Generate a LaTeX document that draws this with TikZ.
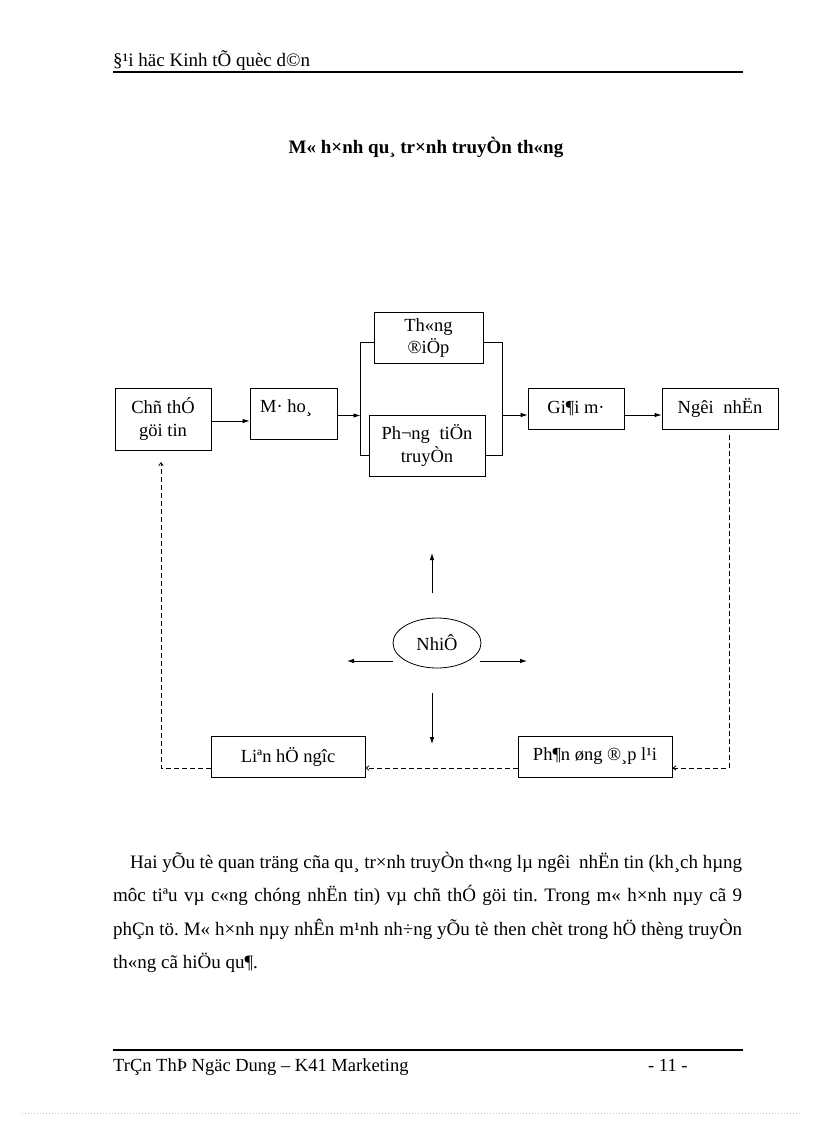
\documentclass[tikz,border=0pt]{standalone}
\usepackage{fontspec}
\setmainfont{Liberation Serif}
\usetikzlibrary{shapes.geometric,arrows.meta}
\newcommand\bxfont{\fontsize{18.5}{22.5}\selectfont}
\newcommand\bdfont{\fontsize{19}{23}\selectfont}
\newcommand\ftfont{\fontsize{18.5}{23}\selectfont}
\frenchspacing
\begin{document}
\begin{tikzpicture}[x=1pt,y=-1pt,
  box/.style={draw, line width=0.8pt, inner sep=0pt, align=center, font=\bxfont},
  lbl/.style={inner sep=0pt, font=\bxfont},
  arr/.style={line width=0.8pt, -{Latex[length=7pt,width=4.5pt]}},
  darr/.style={line width=0.8pt, dash pattern=on 5pt off 3pt, -{Straight Barb[length=3pt,width=4.5pt]}},
  txt/.style={inner sep=0pt, anchor=base west, font=\bdfont},
  rule/.style={line width=1.4pt}]
\useasboundingbox (0,0) rectangle (816,1123);

% header
\node[txt] (hdr) at (113,67) {§¹i häc Kinh tÕ quèc d©n};
\draw[rule] (113,72) -- (743,72);

% title
\node[inner sep=0pt, anchor=base, font=\bdfont\bfseries] (title) at (426,154) {M« h×nh qu¸ tr×nh truyÒn th«ng};

% boxes
\node[box, minimum width=96pt, minimum height=62pt] (chu) at (163,419) {Chñ thÓ\\göi tin};
\node[box, minimum width=87pt, minimum height=51pt] (mahoa) at (293.5,413.5) {};
\node[lbl] (mahoatxt) at (286,408) {M· ho¸};
\node[box, minimum width=109pt, minimum height=51pt] (thong) at (428.5,338) {Th«ng\\®iÖp};
\node[box, minimum width=116pt, minimum height=61pt] (phuong) at (427,445.5) {Ph¬ng\hspace{5pt} tiÖn\\truyÒn};
\node[box, minimum width=96pt, minimum height=41pt] (giai) at (576,408.5) {Gi¶i m·};
\node[box, minimum width=116pt, minimum height=41pt] (nguoi) at (720,408.5) {Ngêi\hspace{5pt} nhËn};
\node[box, minimum width=154pt, minimum height=41pt] (lien) at (288,756.5) {Liªn hÖ ngîc};
\node[box, minimum width=154pt, minimum height=41pt] (phan) at (595,756.5) {Ph¶n øng ®¸p l¹i};
\node[draw, ellipse, line width=0.8pt, minimum width=88pt, minimum height=50pt, inner sep=0pt, font=\bxfont] (noise) at (437,643) {NhiÔ};

% bracket
\coordinate (blt) at (360.5,342);
\coordinate (blb) at (360.5,455);
\coordinate (brt) at (502.5,342);
\coordinate (brb) at (502.5,455);
\coordinate (bl) at (360.5,415.5);
\coordinate (br) at (502.5,415);
\draw[line width=0.8pt] (thong.west |- blt) -- (blt) -- (blb) -- (phuong.west |- blb);
\draw[line width=0.8pt] (thong.east |- brt) -- (brt) -- (brb) -- (phuong.east |- brb);

% main flow arrows
\coordinate (ca) at (211,421);
\draw[arr] (chu.east |- ca) -- (mahoa.west |- ca);
\draw[arr] (mahoa.east |- bl) -- (bl);
\draw[arr] (br) -- (giai.west |- br);
\draw[arr] (giai.east |- br) -- (nguoi.west |- br);

% noise arrows
\coordinate (nu1) at (432,593); \coordinate (nu2) at (432,553);
\coordinate (nd1) at (432,693); \coordinate (nd2) at (432,744);
\coordinate (nl1) at (393,661); \coordinate (nl2) at (347,661);
\coordinate (nr1) at (480,661); \coordinate (nr2) at (527,661);
\draw[arr] (nu1) -- (nu2);
\draw[arr] (nd1) -- (nd2);
\draw[arr] (nl1) -- (nl2);
\draw[arr] (nr1) -- (nr2);

% feedback loop
\coordinate (rtop) at (729,435);
\coordinate (rc) at (729,768);
\coordinate (lc) at (161,768);
\coordinate (ltop) at (161,462);
\draw[darr] (rtop) -- (rc) -- (rc -| phan.east);
\draw[darr] (phan.west |- rc) -- (lien.east |- rc);
\draw[darr] (lien.west |- lc) -- (lc) -- (ltop);

% paragraph
\node[txt] (p1) at (130,868) {\makebox[612pt][s]{Hai yÕu tè quan träng cña qu¸ tr×nh truyÒn th«ng lµ ngêi\hspace{4pt} nhËn tin (kh¸ch hµng}};
\node[txt] (p2) at (113,901.5) {\makebox[629pt][s]{môc tiªu vµ c«ng chóng nhËn tin) vµ chñ thÓ göi tin. Trong m« h×nh nµy cã 9}};
\node[txt] (p3) at (113,935) {\makebox[629pt][s]{phÇn tö. M« h×nh nµy nhÊn m¹nh nh÷ng yÕu tè then chèt trong hÖ thèng truyÒn}};
\node[txt] (p4) at (113,968.5) {th«ng cã hiÖu qu¶.};

% footer
\draw[rule] (113,1050) -- (743,1050);
\node[txt, font=\ftfont] (f1) at (113,1071) {TrÇn ThÞ Ngäc Dung – K41 Marketing};
\node[txt, font=\ftfont] (f2) at (648,1071) {- 11 -};

\draw[gray!45, line width=0.6pt, dash pattern=on 1pt off 2pt] (22,1113) -- (800,1113);
\end{tikzpicture}
\end{document}
